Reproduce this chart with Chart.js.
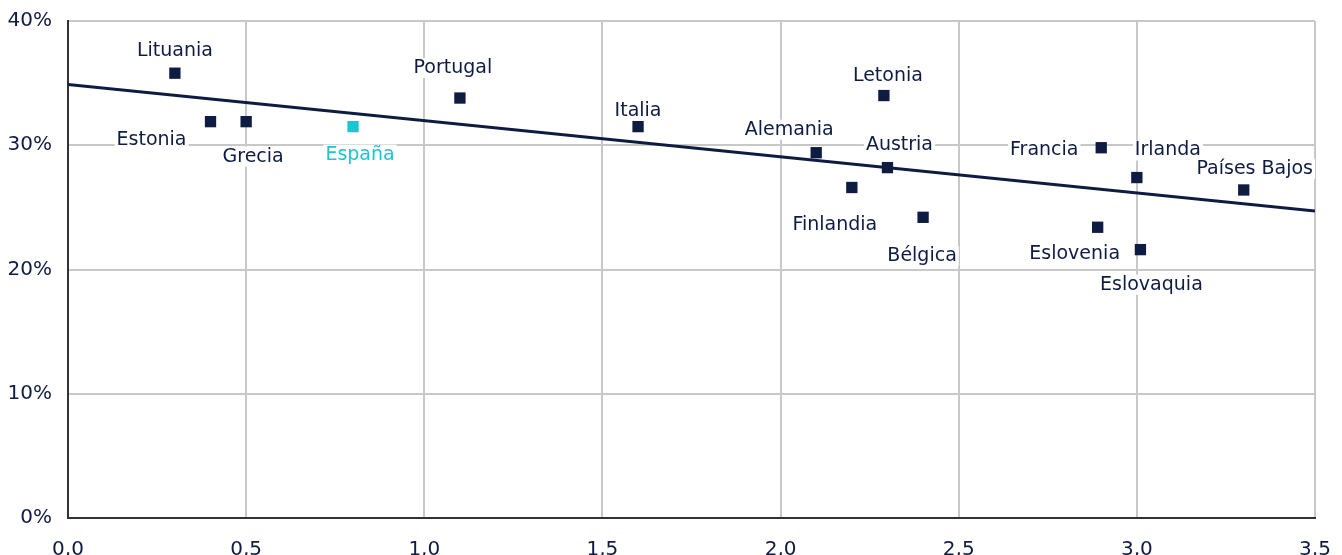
<!DOCTYPE html>
<html>
<head>
<meta charset="utf-8">
<script src="https://cdn.jsdelivr.net/npm/chart.js@4/dist/chart.umd.min.js"></script>
<style>
  html, body { margin: 0; padding: 0; background: #fff; }
  #wrap { width: 1342px; height: 555px; }
</style>
</head>
<body>
<div id="wrap"><canvas id="scatter" width="1342" height="555"></canvas></div>
<script>
// countries and values
var countries = ["Lituania", "Estonia", "Grecia", "España", "Portugal", "Italia", "Alemania", "Finlandia",
  "Letonia", "Austria", "Bélgica", "Francia", "Eslovenia", "Irlanda", "Eslovaquia", "Países Bajos"];
var xValues = [0.30, 0.40, 0.50, 0.80, 1.10, 1.60, 2.10, 2.20, 2.29, 2.30, 2.40, 2.90, 2.89, 3.00, 3.01, 3.30];
var yValues = [35.8, 31.9, 31.9, 31.5, 33.8, 31.5, 29.4, 26.6, 34.0, 28.2, 24.2, 29.8, 23.4, 27.4, 21.6, 26.4];
var trendX = [0, 3.5];
var trendY = [34.9, 24.7];
var xTicks = [0, 0.5, 1, 1.5, 2, 2.5, 3, 3.5];
var yTicks = [0, 10, 20, 30, 40];

var navy = "#0f1c42";
var cyan = "#1cc6cf";
var fontFamily = "'DejaVu Sans', Verdana, sans-serif";

// label offset from the point, in px
var labelOffsets = {
  "Lituania": [0, -22], "Estonia": [-59, 18], "Grecia": [7, 35], "España": [7, 28],
  "Portugal": [-7, -30], "Italia": [0, -16], "Alemania": [-27, -23], "Finlandia": [-17, 38],
  "Letonia": [4, -19], "Austria": [12, -23], "Bélgica": [-1, 39], "Francia": [-57, 2],
  "Eslovenia": [-23, 27], "Irlanda": [31, -27], "Eslovaquia": [11, 35], "Países Bajos": [11, -21]
};

var points = countries.map(function (c, i) { return { x: xValues[i], y: yValues[i], name: c }; });
var pointColors = countries.map(function (c) { return c === "España" ? cyan : navy; });

var labelPlugin = {
  id: "pointLabels",
  afterDatasetsDraw: function (chart) {
    var ctx = chart.ctx;
    var meta = chart.getDatasetMeta(1);
    ctx.save();
    ctx.font = "19px " + fontFamily;
    ctx.textAlign = "center";
    ctx.textBaseline = "middle";
    meta.data.forEach(function (el, i) {
      var name = countries[i];
      var off = labelOffsets[name] || [0, -20];
      var x = el.x + off[0], y = el.y + off[1];
      var w = ctx.measureText(name).width;
      ctx.fillStyle = "#fff";
      ctx.fillRect(x - w / 2 - 2, y - 10, w + 4, 20);
      ctx.fillStyle = name === "España" ? cyan : navy;
      ctx.fillText(name, x, y);
    });
    ctx.restore();
  }
};

var ctx = document.getElementById("scatter").getContext("2d");
var myChart = new Chart(ctx, {
  type: "scatter",
  data: {
    datasets: [
      {
        type: "line",
        label: "Tendencia",
        data: trendX.map(function (x, i) { return { x: x, y: trendY[i] }; }),
        borderColor: navy,
        borderWidth: 3,
        pointRadius: 0,
        fill: false,
        order: 2
      },
      {
        label: "Países",
        data: points,
        pointStyle: "rect",
        pointRadius: 8,
        pointHoverRadius: 8,
        borderWidth: 0,
        backgroundColor: pointColors,
        order: 1
      }
    ]
  },
  options: {
    responsive: false,
    animation: false,
    layout: { padding: { top: 21, right: 27, left: 0, bottom: 0 } },
    plugins: {
      legend: { display: false },
      tooltip: { enabled: false }
    },
    scales: {
      x: {
        type: "linear",
        min: 0,
        max: 3.5,
        afterBuildTicks: function (s) { s.ticks = xTicks.map(function (v) { return { value: v }; }); },
        afterFit: function (s) { s.height = 37; s.paddingLeft = 0; s.paddingRight = 0; },
        grid: { color: "#c8c8c8", lineWidth: 2, drawTicks: false },
        border: { color: "#333", width: 2 },
        ticks: {
          color: navy,
          padding: 20,
          font: { family: fontFamily, size: 20 },
          callback: function (v) { return Number(v).toFixed(1).replace(".", ","); }
        }
      },
      y: {
        min: 0,
        max: 40,
        afterBuildTicks: function (s) { s.ticks = yTicks.map(function (v) { return { value: v }; }); },
        afterFit: function (s) { s.width = 68; s.paddingTop = 0; s.paddingBottom = 0; },
        grid: { color: "#c8c8c8", lineWidth: 2, drawTicks: false },
        border: { color: "#333", width: 2 },
        ticks: {
          color: navy,
          padding: 16,
          font: { family: fontFamily, size: 20 },
          callback: function (v) { return v + "%"; }
        }
      }
    }
  },
  plugins: [labelPlugin]
});
</script>
</body>
</html>
